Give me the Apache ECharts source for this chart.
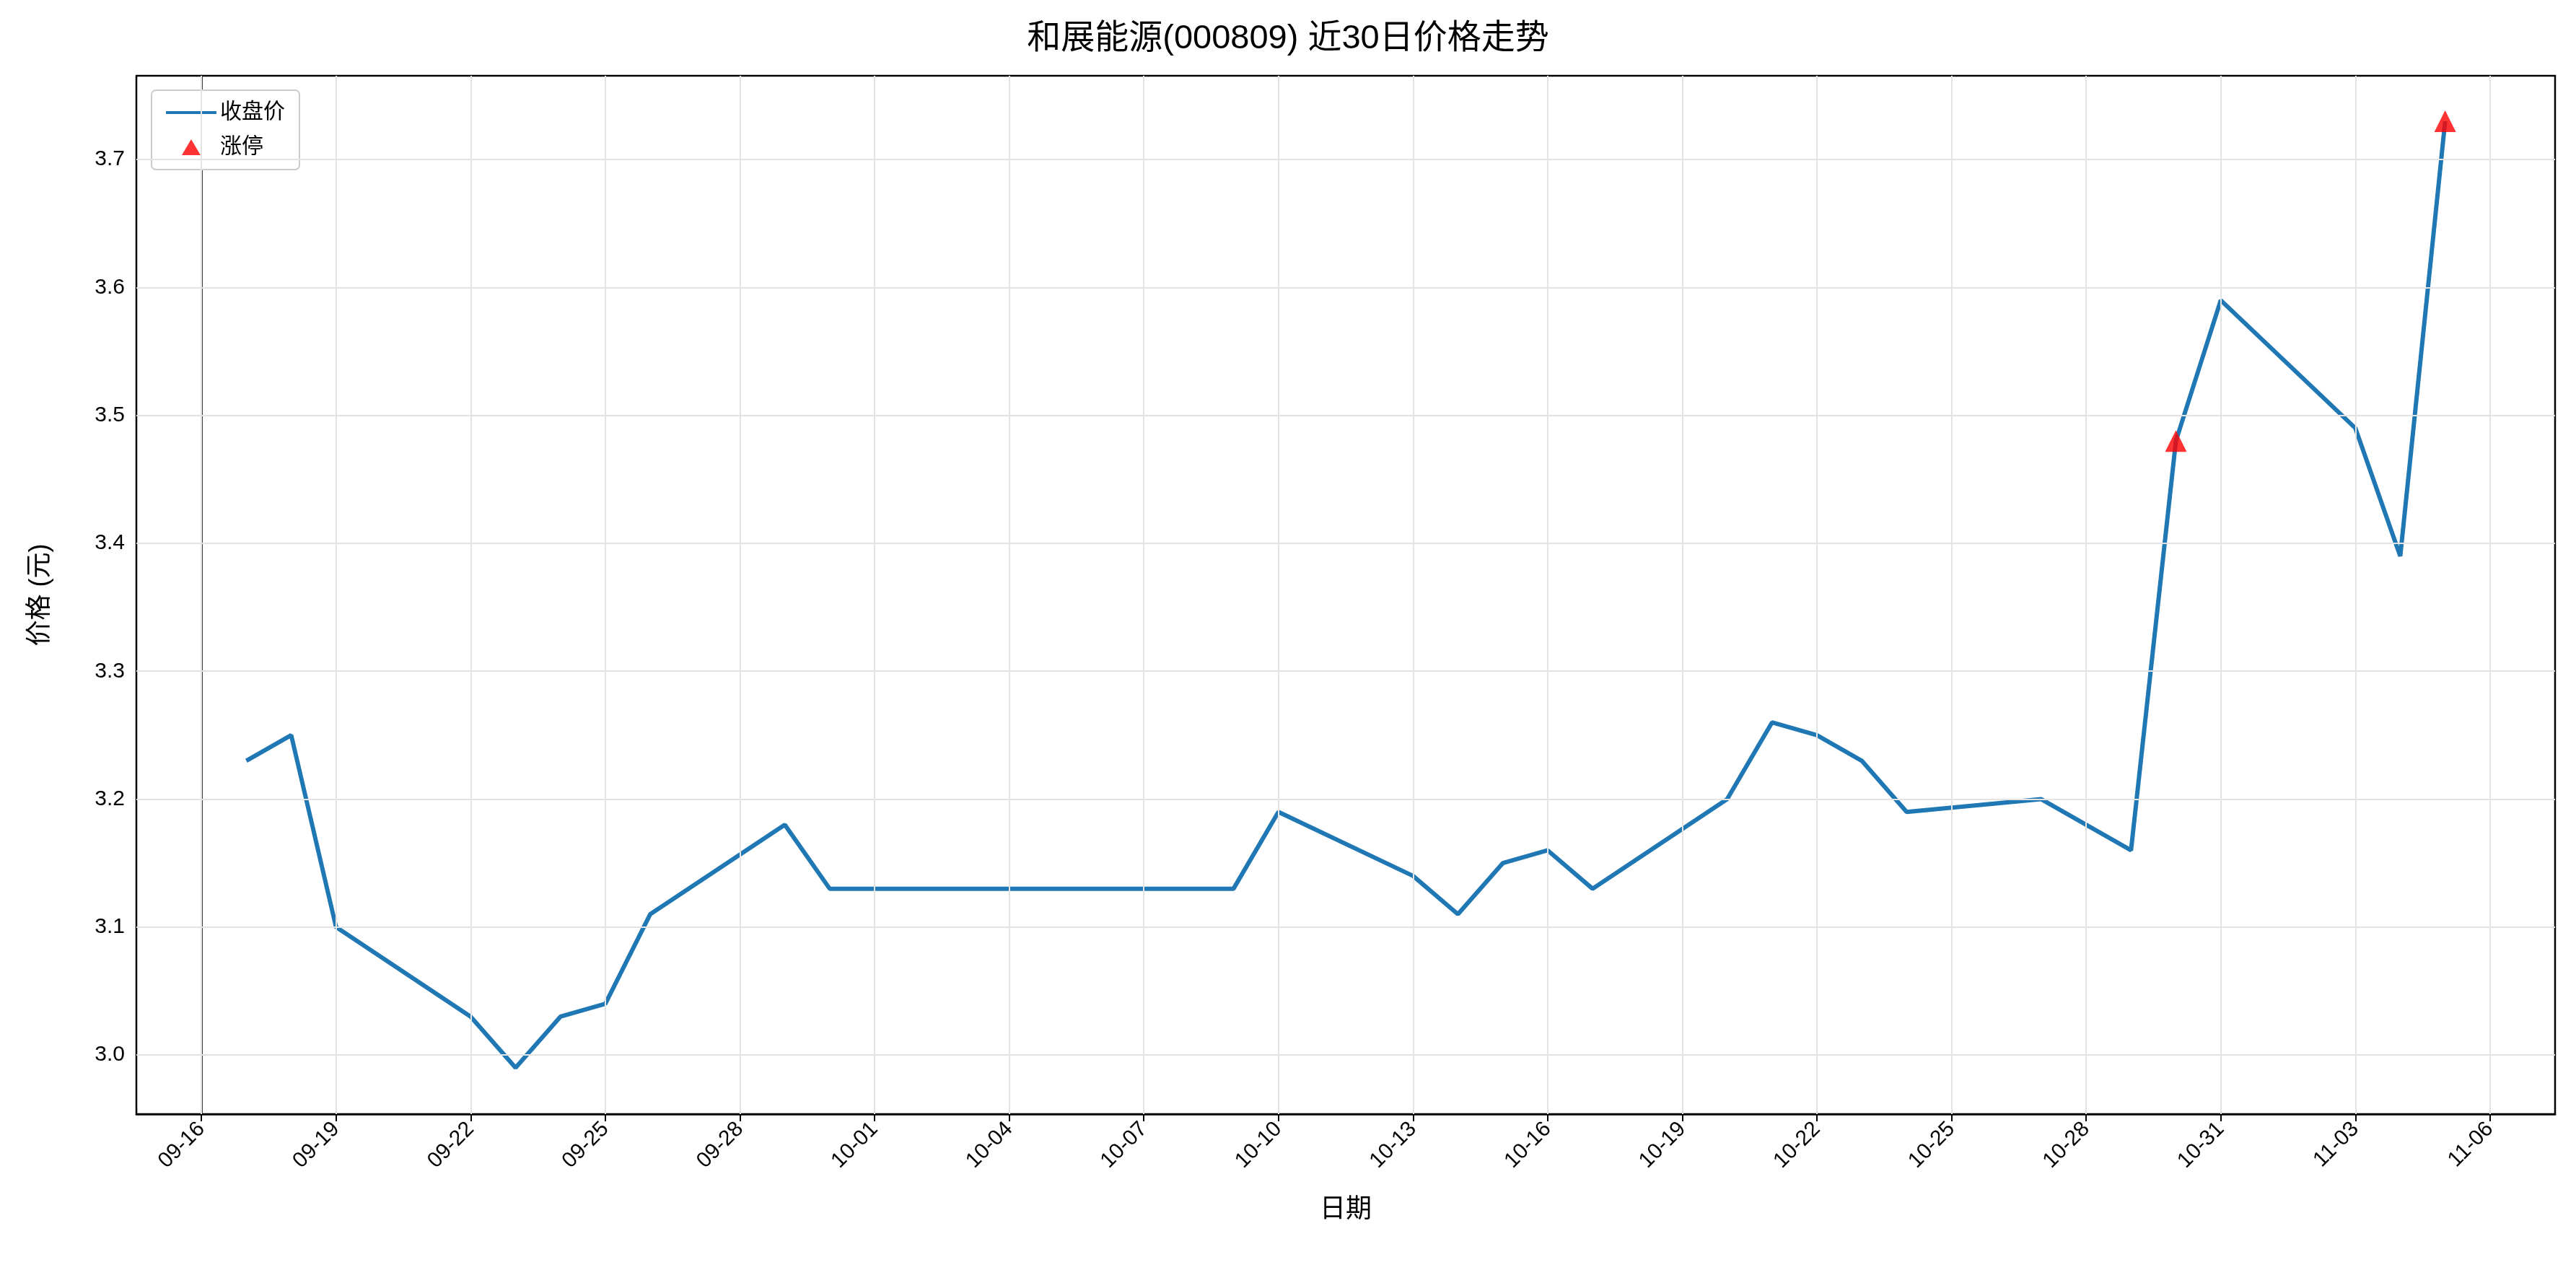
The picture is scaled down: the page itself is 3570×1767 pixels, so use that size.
<!DOCTYPE html>
<html><head><meta charset="utf-8">
<script src="https://cdn.jsdelivr.net/npm/echarts@6/dist/echarts.min.js"></script>
<style>html,body{margin:0;padding:0;background:#fff}#c{width:3570px;height:1767px}</style>
</head><body><div id="c"></div>
<script>
const dates = ['09-17','09-18','09-19','09-22','09-23','09-24','09-25','09-26','09-29','09-30','10-09','10-10','10-13','10-14','10-15','10-16','10-17','10-20','10-21','10-22','10-23','10-24','10-27','10-29','10-30','10-31','11-03','11-04','11-05'];
const closes = [3.23,3.25,3.10,3.03,2.99,3.03,3.04,3.11,3.18,3.13,3.13,3.19,3.14,3.11,3.15,3.16,3.13,3.20,3.26,3.25,3.23,3.19,3.20,3.16,3.48,3.59,3.49,3.39,3.73];
const limitUpDates = ['10-30','11-05'];
const xTicks = [0,3,6,9,12,15,18,21,24,27,30,33,36,39,42,45,48,51];
const yTicks = [3.0,3.1,3.2,3.3,3.4,3.5,3.6,3.7];

const base = new Date(2025,8,16);
function off(md){const [m,d]=md.split('-').map(Number);return Math.round((new Date(2025,m-1,d)-base)/86400000);}
function lab(v){const t=new Date(base.getTime()+v*86400000);return String(t.getMonth()+1).padStart(2,'0')+'-'+String(t.getDate()).padStart(2,'0');}
const lineData = dates.map((d,i)=>[off(d),closes[i]]);
const upData = limitUpDates.map(d=>[off(d),closes[dates.indexOf(d)]]);
const F='"Liberation Sans","Noto Sans CJK SC",sans-serif';
const grid = {lineStyle:{color:'#e3e3e3',width:2,type:'solid'},symbol:'none',silent:true,label:{show:false}};
const chart = echarts.init(document.getElementById('c'));
chart.setOption({
  animation:false,
  title:{text:'和展能源(000809) 近30日价格走势',left:'center',top:26,textStyle:{fontFamily:F,fontSize:47,fontWeight:'normal',color:'#000'}},
  legend:{left:210,top:125,orient:'vertical',itemGap:18,backgroundColor:'#fff',borderColor:'#ccc',borderWidth:2,borderRadius:6,padding:[16,20],
    textStyle:{fontFamily:F,fontSize:30,color:'#000'},itemWidth:70,itemHeight:26,
    data:[{name:'收盘价',icon:'path://M0,11 L70,11 L70,15 L0,15 Z M0,0 L0.1,0 L0.1,0.1 Z M70,26 L70.1,26 L70.1,25.9 Z'},
          {name:'涨停',icon:'path://M0,0 L0.1,0 L0.1,0.1 Z M35,2 L48,24 L22,24 Z M70,26 L70.1,26 L70.1,25.9 Z',itemStyle:{color:'red'}}]},
  grid:{left:189,right:29,top:105,bottom:223,show:true,borderColor:'#000',borderWidth:2.5,backgroundColor:'transparent'},
  xAxis:{type:'value',min:-1.45,max:52.45,name:'日期',nameLocation:'middle',nameGap:115,
    nameTextStyle:{fontFamily:F,fontSize:36,color:'#000'},
    axisLine:{show:true,lineStyle:{color:'#000',width:2.5}},
    axisTick:{show:true,customValues:xTicks,length:10,lineStyle:{color:'#000',width:2}},
    axisLabel:{customValues:xTicks,formatter:lab,rotate:45,fontFamily:F,fontSize:30,color:'#000',margin:16},
    splitLine:{show:false}},
  yAxis:{type:'value',min:2.9538,max:3.7655,name:'价格 (元)',nameLocation:'middle',nameGap:115,
    nameTextStyle:{fontFamily:F,fontSize:36,color:'#000'},
    axisLine:{show:true,lineStyle:{color:'#000',width:2.5}},
    axisTick:{show:true,customValues:yTicks,length:10,lineStyle:{color:'#000',width:2}},
    axisLabel:{customValues:yTicks,formatter:v=>v.toFixed(1),fontFamily:F,fontSize:30,color:'#000',margin:16},
    splitLine:{show:false}},
  series:[
    {name:'收盘价',type:'line',data:lineData,showSymbol:false,lineStyle:{color:'#1f77b4',width:6},itemStyle:{color:'#1f77b4'},z:3,
     markLine:Object.assign({data:xTicks.map(v=>({xAxis:v})).concat(yTicks.map(v=>({yAxis:v})))},grid)},
    {name:'涨停',type:'scatter',data:upData,symbol:'triangle',symbolSize:30,itemStyle:{color:'red'},z:4}
  ]
});
</script></body></html>
